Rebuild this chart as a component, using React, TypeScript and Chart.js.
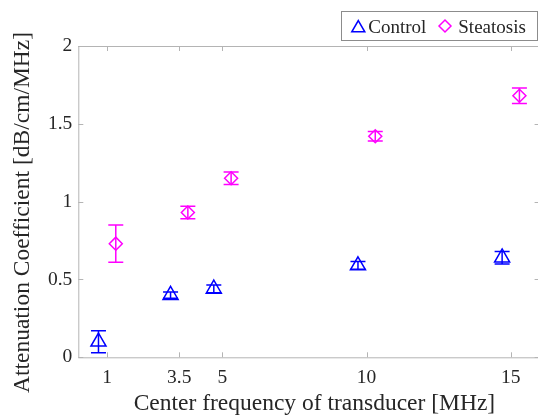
import React, { useEffect, useRef } from "react";
import { Chart, registerables } from "chart.js";

Chart.register(...registerables);

// ---- data ----
const seriesLabels = ["Control", "Steatosis"];
const controlFreq = [0.7, 3.2, 4.7, 9.7, 14.7];
const controlMean = [0.1, 0.4, 0.44, 0.59, 0.64];
const controlErr = [0.07, 0.02, 0.025, 0.025, 0.04];
const steatosisFreq = [1.3, 3.8, 5.3, 10.3, 15.3];
const steatosisMean = [0.73, 0.93, 1.15, 1.42, 1.68];
const steatosisErr = [0.12, 0.04, 0.04, 0.03, 0.05];
const xTicks = [1, 3.5, 5, 10, 15];
const yTicks = [0, 0.5, 1, 1.5, 2];
const xTitle = "Center frequency of transducer [MHz]";
const yTitle = "Attenuation Coefficient [dB/cm/MHz]";

const BLUE = "#0000ff";
const MAGENTA = "#ff00ff";
const AXIS = "#b4b4b4";
const TEXT = "#262626";
const FONT = "'Liberation Serif', 'Times New Roman', serif";

const CANVAS_W = 545;
const CANVAS_H = 415;

function trianglePath(ctx: CanvasRenderingContext2D, x: number, y: number, r: number) {
  let rad = 0;
  ctx.beginPath();
  for (let i = 0; i < 3; i++) {
    const px = x + Math.sin(rad) * r;
    const py = y - Math.cos(rad) * r;
    if (i === 0) ctx.moveTo(px, py);
    else ctx.lineTo(px, py);
    rad += (2 * Math.PI) / 3;
  }
  ctx.closePath();
}

function diamondPath(ctx: CanvasRenderingContext2D, x: number, y: number, r: number) {
  ctx.beginPath();
  ctx.moveTo(x - r, y);
  ctx.lineTo(x, y - r);
  ctx.lineTo(x + r, y);
  ctx.lineTo(x, y + r);
  ctx.closePath();
}

const decorPlugin = {
  id: "decor",
  afterDatasetsDraw(chart: any) {
    const ctx: CanvasRenderingContext2D = chart.ctx;
    const xs = chart.scales.x;
    const ys = chart.scales.y;

    // error bars
    const groups = [
      { f: controlFreq, m: controlMean, e: controlErr, c: BLUE },
      { f: steatosisFreq, m: steatosisMean, e: steatosisErr, c: MAGENTA },
    ];
    ctx.save();
    ctx.lineWidth = 1.5;
    for (const g of groups) {
      ctx.strokeStyle = g.c;
      for (let i = 0; i < g.f.length; i++) {
        const px = xs.getPixelForValue(g.f[i]);
        const y1 = ys.getPixelForValue(g.m[i] + g.e[i]);
        const y2 = ys.getPixelForValue(g.m[i] - g.e[i]);
        const cap = 7.5;
        ctx.beginPath();
        ctx.moveTo(px, y1);
        ctx.lineTo(px, y2);
        ctx.moveTo(px - cap, y1);
        ctx.lineTo(px + cap, y1);
        ctx.moveTo(px - cap, y2);
        ctx.lineTo(px + cap, y2);
        ctx.stroke();
      }
    }
    ctx.restore();
  },
  afterDraw(chart: any) {
    const ctx: CanvasRenderingContext2D = chart.ctx;
    const xs = chart.scales.x;
    const ys = chart.scales.y;
    const { left, right, top, bottom } = chart.chartArea;

    // axes box
    ctx.save();
    ctx.strokeStyle = AXIS;
    ctx.lineWidth = 1;
    ctx.beginPath();
    ctx.moveTo(left, top + 0.5);
    ctx.lineTo(right, top + 0.5);
    ctx.moveTo(left, bottom + 0.5);
    ctx.lineTo(right, bottom + 0.5);
    ctx.moveTo(left + 0.5, top);
    ctx.lineTo(left + 0.5, bottom);
    ctx.moveTo(right - 0.5, top);
    ctx.lineTo(right - 0.5, bottom);
    const tl = 5;
    for (const v of xTicks) {
      const px = Math.round(xs.getPixelForValue(v)) + 0.5;
      ctx.moveTo(px, bottom);
      ctx.lineTo(px, bottom - tl);
      ctx.moveTo(px, top);
      ctx.lineTo(px, top + tl);
    }
    for (const v of yTicks) {
      const py = Math.round(ys.getPixelForValue(v)) + 0.5;
      ctx.moveTo(left, py);
      ctx.lineTo(left + tl, py);
      ctx.moveTo(right, py);
      ctx.lineTo(right - tl, py);
    }
    ctx.stroke();
    ctx.restore();

    // axis titles
    ctx.save();
    ctx.fillStyle = TEXT;
    ctx.font = `23.5px ${FONT}`;
    ctx.textAlign = "center";
    ctx.textBaseline = "alphabetic";
    ctx.fillText(xTitle, 314.4, 409.7);
    ctx.translate(28.5, 212.5);
    ctx.rotate(-Math.PI / 2);
    ctx.fillText(yTitle, 0, 0);
    ctx.restore();

    // legend
    ctx.save();
    ctx.fillStyle = "#ffffff";
    ctx.fillRect(341.5, 11.5, 196, 29);
    ctx.strokeStyle = "#8c8c8c";
    ctx.lineWidth = 1;
    ctx.strokeRect(341.5, 11.5, 196, 29);
    ctx.lineWidth = 1.5;
    ctx.strokeStyle = BLUE;
    trianglePath(ctx, 358.3, 28, 7.5);
    ctx.stroke();
    ctx.strokeStyle = MAGENTA;
    diamondPath(ctx, 445, 26, 6);
    ctx.stroke();
    ctx.fillStyle = TEXT;
    ctx.font = `19px ${FONT}`;
    ctx.textAlign = "left";
    ctx.textBaseline = "alphabetic";
    ctx.fillText(seriesLabels[0], 368.3, 32.5);
    ctx.fillText(seriesLabels[1], 458.3, 32.5);
    ctx.restore();
  },
};

export default function App() {
  const ref = useRef<HTMLCanvasElement | null>(null);

  useEffect(() => {
    if (!ref.current) return;
    const chart = new Chart(ref.current, {
      type: "scatter",
      data: {
        datasets: [
          {
            label: seriesLabels[0],
            data: controlFreq.map((f, i) => ({ x: f, y: controlMean[i] })),
            pointStyle: "triangle",
            pointRadius: 8.7,
            pointHoverRadius: 8.7,
            borderColor: BLUE,
            backgroundColor: "rgba(0,0,0,0)",
            borderWidth: 1.5,
          },
          {
            label: seriesLabels[1],
            data: steatosisFreq.map((f, i) => ({ x: f, y: steatosisMean[i] })),
            pointStyle: "rectRot",
            pointRadius: 6.5,
            pointHoverRadius: 6.5,
            borderColor: MAGENTA,
            backgroundColor: "rgba(0,0,0,0)",
            borderWidth: 1.5,
          },
        ],
      },
      options: {
        animation: false,
        responsive: false,
        devicePixelRatio: 1,
        events: [],
        layout: {
          autoPadding: false,
          padding: { top: 46, right: CANVAS_W - 539.6, left: 0, bottom: 0 },
        },
        plugins: {
          legend: { display: false },
          title: { display: false },
          tooltip: { enabled: false },
        },
        scales: {
          x: {
            type: "linear",
            min: 0,
            max: 16,
            afterBuildTicks: (s: any) => {
              s.ticks = xTicks.map((v) => ({ value: v }));
            },
            afterFit: (s: any) => {
              s.height = CANVAS_H - 357.3;
              s.paddingLeft = 0;
              s.paddingRight = 0;
            },
            grid: { display: false, drawTicks: false },
            border: { display: false },
            ticks: {
              padding: 8.5,
              color: TEXT,
              font: { family: FONT, size: 19.5 },
              maxRotation: 0,
              autoSkip: false,
              callback: (v: any) => String(v),
            },
          },
          y: {
            type: "linear",
            min: 0,
            max: 2,
            afterBuildTicks: (s: any) => {
              s.ticks = yTicks.map((v) => ({ value: v }));
            },
            afterFit: (s: any) => {
              s.width = 78.3;
              s.paddingTop = 0;
              s.paddingBottom = 0;
            },
            grid: { display: false, drawTicks: false },
            border: { display: false },
            ticks: {
              padding: 6,
              color: TEXT,
              font: { family: FONT, size: 19.5 },
              autoSkip: false,
              callback: (v: any) => String(v),
            },
          },
        },
      },
      plugins: [decorPlugin],
    } as any);
    return () => chart.destroy();
  }, []);

  return (
    <div
      style={{
        position: "absolute",
        left: 0,
        top: 0,
        width: 538,
        height: 415,
        overflow: "hidden",
        background: "#ffffff",
      }}
    >
      <canvas
        ref={ref}
        width={CANVAS_W}
        height={CANVAS_H}
        style={{ width: CANVAS_W, height: CANVAS_H, display: "block" }}
      />
    </div>
  );
}
